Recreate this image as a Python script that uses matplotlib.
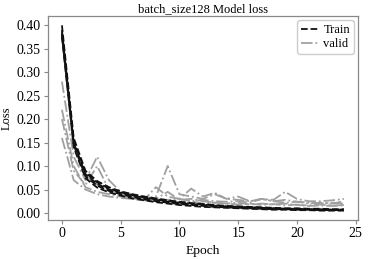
import matplotlib
matplotlib.use("Agg")
import matplotlib.pyplot as plt
import numpy as np

plt.rcParams['font.family'] = ['Liberation Serif', 'DejaVu Serif']

epochs = list(range(25))

train_1 = [0.400, 0.160, 0.090, 0.068, 0.055, 0.046, 0.040, 0.035, 0.031, 0.027, 0.024, 0.021, 0.019, 0.017, 0.015, 0.014, 0.013, 0.012, 0.011, 0.010, 0.010, 0.009, 0.009, 0.008, 0.008]
train_2 = [0.390, 0.150, 0.083, 0.062, 0.050, 0.043, 0.037, 0.032, 0.028, 0.024, 0.021, 0.019, 0.017, 0.015, 0.014, 0.013, 0.012, 0.011, 0.010, 0.009, 0.009, 0.008, 0.008, 0.007, 0.007]
train_3 = [0.385, 0.145, 0.078, 0.058, 0.047, 0.040, 0.034, 0.029, 0.025, 0.022, 0.019, 0.017, 0.015, 0.013, 0.012, 0.011, 0.010, 0.009, 0.008, 0.008, 0.007, 0.007, 0.006, 0.006, 0.006]
train_4 = [0.380, 0.155, 0.086, 0.065, 0.052, 0.044, 0.038, 0.033, 0.029, 0.025, 0.022, 0.020, 0.018, 0.016, 0.014, 0.013, 0.012, 0.011, 0.010, 0.009, 0.008, 0.008, 0.007, 0.007, 0.007]
train_5 = [0.375, 0.140, 0.074, 0.054, 0.044, 0.037, 0.031, 0.027, 0.023, 0.020, 0.017, 0.015, 0.013, 0.012, 0.011, 0.010, 0.009, 0.008, 0.007, 0.007, 0.006, 0.006, 0.005, 0.005, 0.005]

valid_1 = [0.280, 0.120, 0.070, 0.120, 0.070, 0.045, 0.040, 0.035, 0.030, 0.028, 0.030, 0.025, 0.028, 0.025, 0.024, 0.025, 0.022, 0.030, 0.025, 0.022, 0.024, 0.020, 0.022, 0.020, 0.025]
valid_2 = [0.200, 0.090, 0.060, 0.100, 0.050, 0.040, 0.035, 0.030, 0.035, 0.100, 0.040, 0.035, 0.030, 0.040, 0.030, 0.028, 0.025, 0.030, 0.028, 0.045, 0.030, 0.025, 0.025, 0.027, 0.030]
valid_3 = [0.160, 0.070, 0.050, 0.040, 0.035, 0.032, 0.030, 0.028, 0.055, 0.035, 0.030, 0.052, 0.035, 0.043, 0.030, 0.035, 0.025, 0.030, 0.025, 0.028, 0.024, 0.022, 0.020, 0.022, 0.020]
valid_4 = [0.380, 0.150, 0.080, 0.060, 0.050, 0.040, 0.035, 0.032, 0.030, 0.045, 0.028, 0.030, 0.025, 0.022, 0.020, 0.022, 0.018, 0.020, 0.018, 0.020, 0.017, 0.016, 0.018, 0.016, 0.017]
valid_5 = [0.220, 0.100, 0.055, 0.045, 0.040, 0.035, 0.030, 0.027, 0.025, 0.028, 0.022, 0.025, 0.020, 0.022, 0.020, 0.018, 0.020, 0.017, 0.019, 0.016, 0.018, 0.015, 0.016, 0.015, 0.016]

train_runs = [train_1, train_2, train_3, train_4, train_5]
valid_runs = [valid_1, valid_2, valid_3, valid_4, valid_5]

fig = plt.figure(figsize=(3.68, 2.59), dpi=100)
ax = fig.add_axes([0.130, 0.151, 0.843, 0.787])

for i, v in enumerate(valid_runs):
    ax.plot(epochs, v, color='#a0a0a0', linestyle='-.', linewidth=1.3,
            label='valid' if i == 0 else None)
for i, t in enumerate(train_runs):
    ax.plot(epochs, t, color='#111111', linestyle='--', linewidth=1.3,
            label='Train' if i == 0 else None)

ax.set_title('batch_size128 Model loss', fontsize=9, pad=3)
ax.set_xlabel('Epoch', fontsize=9.7, labelpad=4)
ax.set_ylabel('Loss', fontsize=9, labelpad=3)
ax.set_xticks([0, 5, 10, 15, 20, 25])
ax.set_yticks([0.00, 0.05, 0.10, 0.15, 0.20, 0.25, 0.30, 0.35, 0.40])
ax.yaxis.set_major_formatter(matplotlib.ticker.FormatStrFormatter('%.2f'))
ax.tick_params(labelsize=10, length=3, width=0.8, color='#888888', pad=2)
for s in ax.spines.values():
    s.set_color('#888888')
    s.set_linewidth(0.9)

h, l = ax.get_legend_handles_labels()
order = [l.index('Train'), l.index('valid')]
leg = ax.legend([h[i] for i in order], [l[i] for i in order], loc='upper right',
                fontsize=9, handlelength=1.4, handletextpad=0.4,
                borderpad=0.3, labelspacing=0.15, borderaxespad=0.35, framealpha=1)
leg.get_frame().set_edgecolor('#cccccc')

fig.savefig('out.png', dpi=100)
